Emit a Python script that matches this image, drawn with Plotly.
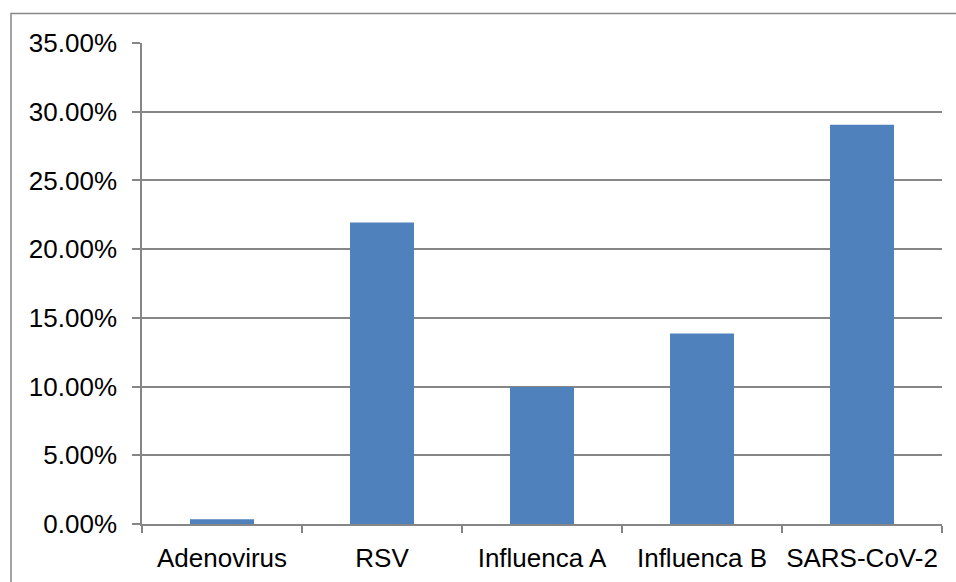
import plotly.graph_objects as go

categories = ["Adenovirus", "RSV", "Influenca A", "Influenca B", "SARS-CoV-2"]
values = [0.0035, 0.2193, 0.0997, 0.1387, 0.2905]
y_tick_vals = [0, 0.05, 0.10, 0.15, 0.20, 0.25, 0.30, 0.35]

GRID = "#868686"
BAR = "#4F81BD"
FONT = "Liberation Sans, Arial, sans-serif"

W, H = 956, 582
L, R, T, B = 142, 14, 42.5, 58
plot_w = W - L - R
plot_h = H - T - B

fig = go.Figure(
    go.Bar(x=categories, y=values, marker=dict(color=BAR, line=dict(width=0)), width=0.4)
)

fig.update_layout(
    width=W, height=H,
    margin=dict(l=L, r=R, t=T, b=B, pad=0),
    paper_bgcolor="white", plot_bgcolor="white",
    font=dict(family=FONT, size=26, color="black"),
    showlegend=False,
    shapes=[
        dict(type="rect", xref="paper", yref="paper",
             x0=(11 - L) / plot_w, x1=1.2,
             y0=-0.5, y1=1 + (T - 13) / plot_h,
             line=dict(color=GRID, width=1.5), fillcolor="rgba(0,0,0,0)", layer="below"),
    ],
)

fig.update_xaxes(
    type="category", showgrid=False, automargin=False, tickangle=0,
    showline=True, linecolor=GRID, linewidth=1.5,
    ticks="outside", tickson="boundaries", ticklen=7, tickcolor=GRID, tickwidth=1.5,
    tickfont=dict(family=FONT, size=26, color="black"),
    ticklabelstandoff=10,
)
fig.update_yaxes(
    range=[0, 0.35], tickvals=y_tick_vals, tickformat=".2%", automargin=False,
    showgrid=True, gridcolor=GRID, gridwidth=1.5,
    showline=True, linecolor=GRID, linewidth=1.5,
    ticks="outside", ticklen=8, tickcolor=GRID, tickwidth=1.5,
    tickfont=dict(family=FONT, size=26, color="black"),
    ticklabelstandoff=10, zeroline=False,
)

fig.write_html(
    "out.html",
    config={"displayModeBar": False},
    post_script="document.body.style.margin='0';document.body.style.overflow='hidden';",
)
